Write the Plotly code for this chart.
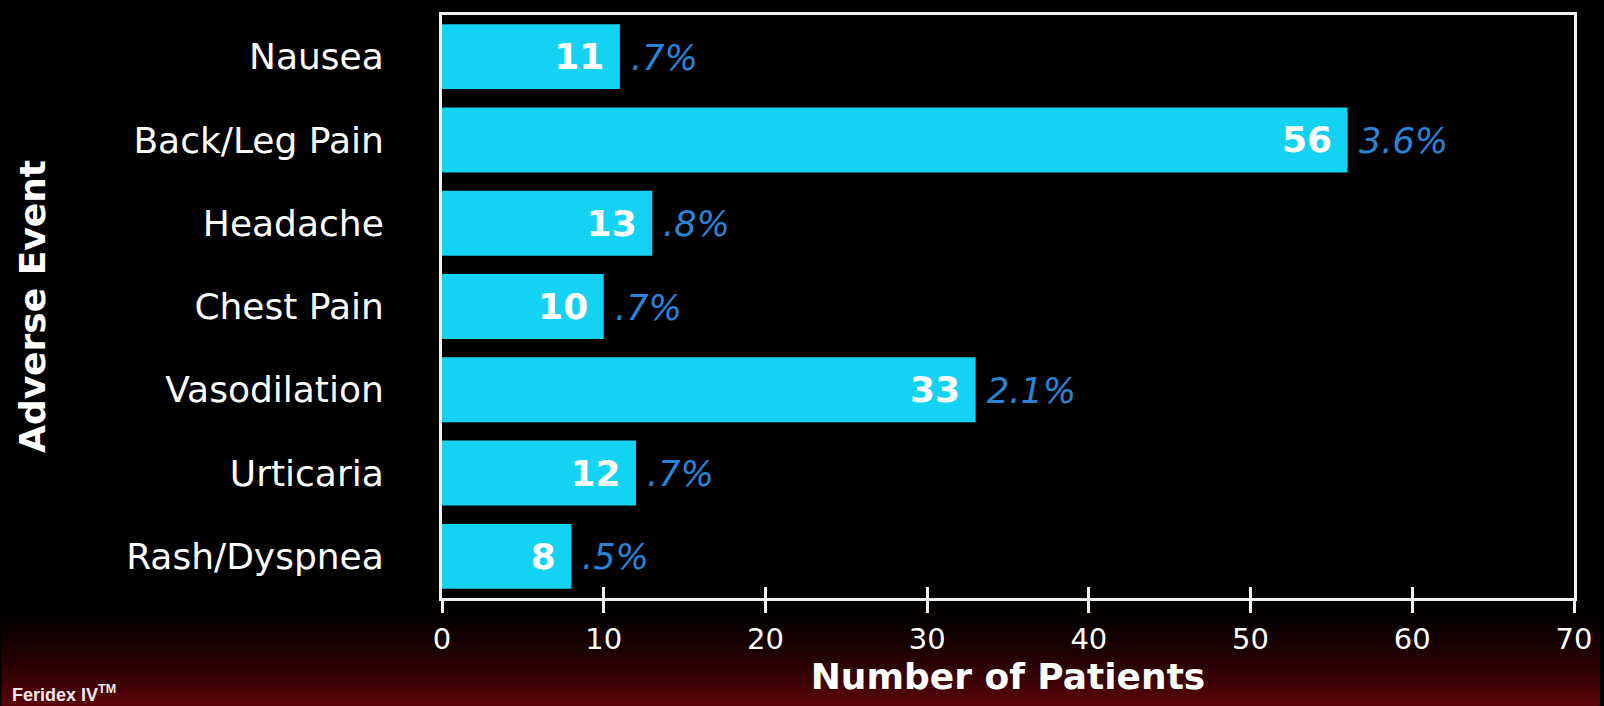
import plotly.graph_objects as go

# ---- data ----
events = ["Nausea", "Back/Leg Pain", "Headache", "Chest Pain",
          "Vasodilation", "Urticaria", "Rash/Dyspnea"]
patients = [11, 56, 13, 10, 33, 12, 8]
percents = [".7%", "3.6%", ".8%", ".7%", "2.1%", ".7%", ".5%"]
x_ticks = [0, 10, 20, 30, 40, 50, 60, 70]

FONT = "DejaVu Sans"
BAR = "#14d2f2"
PCT = "#2a84d6"
W, H = 1604, 706
L, R, T, B = 442, 26, 12, 108

fig = go.Figure()
fig.add_trace(go.Bar(
    x=patients, y=events, orientation="h",
    marker=dict(color=BAR, line=dict(width=0)),
    text=[f"{v}\u00a0" for v in patients],
    textposition="inside", insidetextanchor="end",
    textfont=dict(family=FONT, size=36, color="white", weight="bold"),
    constraintext="none",
    cliponaxis=False,
    showlegend=False,
))
# invisible trace to anchor the overlay axis (inner tick marks)
fig.add_trace(go.Scatter(x=[x_ticks[0]], y=[events[0]], xaxis="x2",
                         mode="markers", marker=dict(opacity=0),
                         showlegend=False, hoverinfo="skip"))

for ev, v, p in zip(events, patients, percents):
    fig.add_annotation(x=v, y=ev, text=p, showarrow=False,
                       xanchor="left", xshift=9, yshift=-1,
                       font=dict(family=FONT, size=35, color=PCT, style="italic"))

# background: black with dark red glow at the bottom
ph = H - T - B
def py(p):
    return (H - B - p) / ph
n = 40
top_px, bot_px = 598, H
for i in range(n):
    f = (i + 0.5) / n
    r = int(92 * f ** 1.6)
    g = int(4 * f ** 1.6)
    b = int(9 * f ** 1.6)
    y0 = top_px + (bot_px - top_px) * i / n
    y1 = top_px + (bot_px - top_px) * (i + 1) / n + 1
    fig.add_shape(type="rect", xref="paper", yref="paper",
                  x0=-L / (W - L - R), x1=1 + R / (W - L - R),
                  y0=py(y1), y1=py(y0),
                  fillcolor=f"rgb({r},{g},{b})", line=dict(width=0),
                  layer="below")

fig.add_annotation(xref="paper", yref="paper",
                   x=(8 - L) / (W - L - R), y=py(680),
                   xanchor="left", yanchor="top", showarrow=False,
                   text="Feridex IV<sup>TM</sup>",
                   font=dict(family="Liberation Sans", size=18, color="#f2e6ea", weight="bold"))

axis_common = dict(range=[0, 70], tickvals=x_ticks)
fig.update_layout(
    width=W, height=H,
    margin=dict(l=L, r=R, t=T, b=B),
    paper_bgcolor="black", plot_bgcolor="black",
    bargap=0.22,
    xaxis=dict(**axis_common, showgrid=False, zeroline=False,
               showline=True, linecolor="#f0f0f0", linewidth=3, mirror=True,
               ticks="outside", ticklen=12, tickwidth=3, tickcolor="#f0f0f0",
               tickfont=dict(family=FONT, size=29, color="white"),
               ticklabelstandoff=1,
               title=dict(text="Number of Patients", standoff=10,
                          font=dict(family=FONT, size=36, color="white", weight="bold"))),
    xaxis2=dict(**axis_common, overlaying="x", anchor="y", side="bottom",
                showgrid=False, zeroline=False, showline=False,
                ticks="inside", ticklen=11, tickwidth=3, tickcolor="#f0f0f0",
                showticklabels=False),
    yaxis=dict(categoryorder="array", categoryarray=events,
               range=[6.5, -0.5], showgrid=False, zeroline=False,
               showline=True, linecolor="#f0f0f0", linewidth=3, mirror=True,
               ticks="", ticklabelstandoff=48,
               tickfont=dict(family=FONT, size=36, color="white"),
               title=dict(text="Adverse Event", standoff=70,
                          font=dict(family=FONT, size=36, color="white", weight="bold"))),
)

fig.write_html("out.html")
